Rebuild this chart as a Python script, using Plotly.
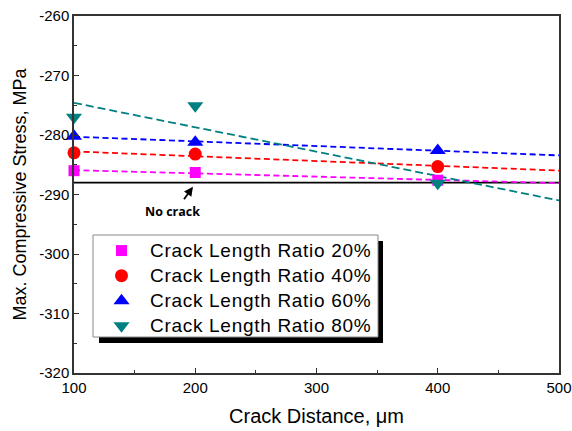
import numpy as np
import plotly.graph_objects as go

# Crack distance (um) and max. compressive stress (MPa) per crack length ratio
distance = [100, 200, 400]
ratio_20 = [-286.0, -286.3, -287.6]
ratio_40 = [-283.0, -283.2, -285.3]
ratio_60 = [-280.2, -281.2, -282.6]
ratio_80 = [-277.0, -275.1, -288.1]
no_crack = -288.0

x_ticks = [100, 200, 300, 400, 500]
y_ticks = [-320, -310, -300, -290, -280, -270, -260]

names = ["Crack Length Ratio 20%", "Crack Length Ratio 40%",
         "Crack Length Ratio 60%", "Crack Length Ratio 80%"]
series = [ratio_20, ratio_40, ratio_60, ratio_80]
colors = ["#FF00FF", "#FF0000", "#0000FF", "#008080"]
symbols = ["square", "circle", "triangle-up", "triangle-down"]
sizes = [11, 13, 14, 14]
dashes = ["6px,3.5px", "6px,3.5px", "6px,3.5px", "8px,4px"]

fig = go.Figure()

# Reference line for the uncracked case
fig.add_trace(go.Scatter(x=[100, 500], y=[no_crack, no_crack], mode="lines",
                         line=dict(color="black", width=1.6), showlegend=False,
                         hoverinfo="skip"))

# Linear fits (dashed) across the full distance range
fit_x = np.array([100, 500])
for vals, c, d in zip(series, colors, dashes):
    k, b = np.polyfit(distance, vals, 1)
    fig.add_trace(go.Scatter(x=fit_x, y=k * fit_x + b, mode="lines",
                             line=dict(color=c, width=1.8, dash=d),
                             showlegend=False, hoverinfo="skip"))

# legend labels rendered a touch larger than the legend row height font
label_style = "font-size:19px;letter-spacing:0.7px"
for name, vals, c, s, sz in zip(names, series, colors, symbols, sizes):
    fig.add_trace(go.Scatter(x=distance, y=vals, mode="markers",
                             name=f'<span style="{label_style}">{name}</span>',
                             marker=dict(color=c, symbol=s, size=sz,
                                         line=dict(width=0)),
                             cliponaxis=False))

W, H = 572, 431
ml, mr, mt, mb = 74, 13, 16, 58
pw, ph = W - ml - mr, H - mt - mb

def px_to_paper(px, py):
    return (px - ml) / pw, (H - mb - py) / ph

# legend frame with a drop shadow, drawn as shapes behind the legend items
leg_l, leg_t, leg_r, leg_b = 93, 235, 378, 337
bx0, by0 = px_to_paper(leg_l, leg_b)
bx1, by1 = px_to_paper(leg_r, leg_t)
sx0, sy0 = px_to_paper(leg_l + 6, leg_b + 6)
sx1, sy1 = px_to_paper(leg_r + 5, leg_t + 6)
fig.add_shape(type="rect", xref="paper", yref="paper", x0=sx0, y0=sy0,
              x1=sx1, y1=sy1, fillcolor="black", line=dict(width=0),
              layer="above")
fig.add_shape(type="rect", xref="paper", yref="paper", x0=bx0, y0=by0,
              x1=bx1, y1=by1, fillcolor="white",
              line=dict(color="#888888", width=1), layer="above")
lx, ly = px_to_paper(leg_l, leg_t - 2)

fig.add_annotation(x=181.6, y=-292.9, text="<b>No crack</b>", showarrow=False,
                   font=dict(family="Open Sans", size=12.5, color="black"))
fig.add_annotation(x=198.1, y=-288.7, text="", showarrow=True, arrowhead=2,
                   arrowsize=1, arrowwidth=1.8, arrowcolor="black",
                   ax=-10, ay=14)

axis_common = dict(showline=True, linecolor="#333333", linewidth=1.5,
                   mirror=True, ticks="inside", ticklen=5, tickwidth=1,
                   tickcolor="#333333", showgrid=False, zeroline=False,
                   automargin=False,
                   tickfont=dict(family="Liberation Sans, Arial", size=15,
                                 color="black"))

fig.update_xaxes(range=[100, 500], tickvals=x_ticks,
                 ticktext=[str(v) for v in x_ticks],
                 minor=dict(tickvals=[150, 250, 350, 450], ticks="inside",
                            ticklen=3, tickcolor="#333333"),
                 title=dict(text="Crack Distance, μm", standoff=14,
                            font=dict(family="Liberation Sans, Arial",
                                      size=20, color="black")),
                 **axis_common)
fig.update_yaxes(range=[-320, -260], tickvals=y_ticks,
                 ticktext=[str(v) for v in y_ticks],
                 minor=dict(tickvals=[-315, -305, -295, -285, -275, -265],
                            ticks="inside", ticklen=3, tickcolor="#333333"),
                 title=dict(text="Max. Compressive Stress, MPa", standoff=8,
                            font=dict(family="Liberation Sans, Arial",
                                      size=18, color="black")),
                 **axis_common)

fig.update_layout(
    width=W, height=H,
    margin=dict(l=ml, r=mr, t=mt, b=mb),
    paper_bgcolor="white", plot_bgcolor="white",
    legend=dict(x=lx, y=ly, xanchor="left", yanchor="top",
                bgcolor="rgba(0,0,0,0)", borderwidth=0,
                font=dict(family="Liberation Sans, Arial", size=17,
                          color="black"),
                itemwidth=47, tracegroupgap=0),
    showlegend=True,
)

fig.write_html("out.html")
